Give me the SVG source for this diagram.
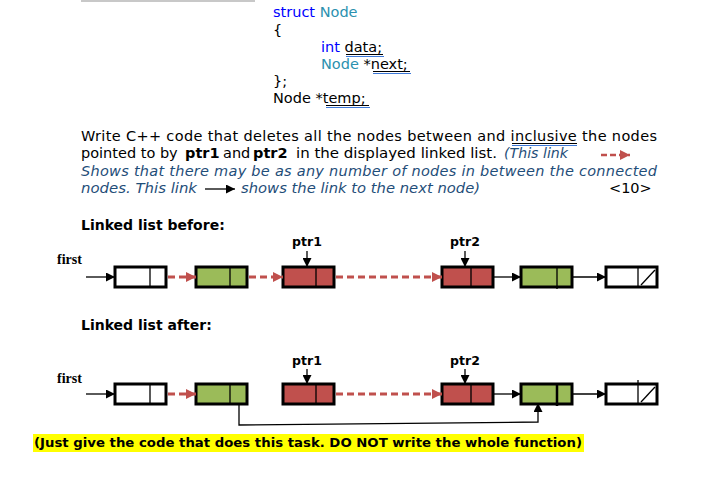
<svg xmlns="http://www.w3.org/2000/svg" width="717" height="479" viewBox="0 0 717 479">
<defs>
<style>
.t{font-family:"DejaVu Sans","Liberation Sans",sans-serif;font-size:14.5px;fill:#000}
.kw{fill:#0000ff}
.ty{fill:#2b91af}
.it{font-style:italic;fill:#1f4e79}
.b{font-weight:bold}
.h{font-family:"DejaVu Sans","Liberation Sans",sans-serif;font-size:14px;font-weight:bold;fill:#000}
.p{font-family:"DejaVu Sans","Liberation Sans",sans-serif;font-size:12.5px;font-weight:bold;fill:#000}
.f{font-family:"Liberation Serif","Times New Roman",serif;font-size:14px;font-weight:bold;fill:#000}
.ul{stroke:#3c78d8;stroke-width:1;fill:none}
.ulk{stroke:#000;stroke-width:1;fill:none}
.node{stroke:#000;stroke-width:3}
.w{fill:#fff}.g{fill:#9bbb59}.r{fill:#c0504d}
.div{stroke:#000;stroke-width:1.3}
.blk{stroke:#000;stroke-width:1.3;fill:none;marker-end:url(#ab)}
.red{stroke:#c0504d;stroke-width:3;stroke-dasharray:7 4;fill:none;marker-end:url(#ar)}
</style>
<marker id="ab" markerUnits="userSpaceOnUse" markerWidth="9" markerHeight="9" refX="9" refY="4.5" orient="auto"><path d="M0,0 L9,4.5 L0,9 z" fill="#000"/></marker>
<marker id="ar" markerUnits="userSpaceOnUse" markerWidth="10" markerHeight="10" refX="10" refY="5" orient="auto"><path d="M0,0 L10,5 L0,10 z" fill="#c0504d"/></marker>
</defs>
<rect x="0" y="0" width="717" height="479" fill="#fff"/>
<rect x="81" y="0" width="174" height="2" fill="#c8c8c8"/>

<g id="code">
<text class="t" x="273" y="17"><tspan class="kw">struct</tspan> <tspan class="ty">Node</tspan></text>
<text class="t" x="273" y="35">{</text>
<text class="t" x="321" y="52"><tspan class="kw">int</tspan> data;</text>
<text class="t" x="321" y="69"><tspan class="ty">Node</tspan> *next;</text>
<text class="t" x="273" y="86">};</text>
<text class="t" x="273" y="103">Node *temp;</text>
<path class="ulk" d="M346,54.5 H383"/><path class="ul" d="M346,56.5 H384"/>
<path class="ulk" d="M373,71.5 H410"/><path class="ul" d="M373,73.5 H411"/>
<path class="ulk" d="M326,105.5 H369"/><path class="ul" d="M326,107.5 H370"/>
</g>

<g id="paragraph">
<text class="t" x="81" y="141" textLength="576" lengthAdjust="spacing">Write C++ code that deletes all the nodes between and inclusive the nodes</text>
<path class="ulk" d="M512,143.5 H577"/><path class="ul" d="M512,145.5 H577"/>
<text class="t" x="81" y="158">pointed to by</text>
<text class="t b" x="185" y="158">ptr1</text>
<text class="t" x="223" y="158">and</text>
<text class="t b" x="253" y="158">ptr2</text>
<text class="t" x="296" y="158" textLength="201" lengthAdjust="spacingAndGlyphs">in the displayed linked list.</text>
<text class="t it" x="504" y="158" textLength="64" lengthAdjust="spacingAndGlyphs">(This link</text>
<line class="red" x1="601" y1="155" x2="630" y2="155" style="stroke-dasharray:6 3;stroke-width:2.5"/>
<text class="t it" x="81" y="176" textLength="576" lengthAdjust="spacing">Shows that there may be as any number of nodes in between the connected</text>
<text class="t it" x="81" y="193" textLength="116" lengthAdjust="spacingAndGlyphs">nodes. This link</text>
<line class="blk" x1="205" y1="189" x2="235" y2="189"/>
<text class="t it" x="241" y="193" textLength="239" lengthAdjust="spacingAndGlyphs">shows the link to the next node)</text>
<text class="t" x="609" y="193">&lt;10&gt;</text>
</g>

<text class="h" x="81" y="230">Linked list before:</text>
<text class="h" x="81" y="330">Linked list after:</text>

<!-- before list -->
<g id="b-first"><text class="f" x="57" y="264">first</text></g>
<g id="b-n1"><rect class="node w" x="115" y="267" width="51" height="20"/><line class="div" x1="150" y1="267" x2="150" y2="287"/></g>
<g id="b-n2"><rect class="node g" x="196" y="267" width="51" height="20"/><line class="div" x1="230" y1="267" x2="230" y2="287"/></g>
<g id="b-n3"><rect class="node r" x="283" y="267" width="51" height="20"/><line class="div" x1="316" y1="267" x2="316" y2="287"/></g>
<g id="b-n4"><rect class="node r" x="442" y="267" width="51" height="20"/><line class="div" x1="471" y1="267" x2="471" y2="287"/></g>
<g id="b-n5"><rect class="node g" x="521" y="267" width="51" height="20"/><line class="div" x1="557" y1="267" x2="557" y2="289"/></g>
<g id="b-n6"><rect class="node w" x="606" y="267" width="51" height="20"/><line class="div" x1="638" y1="267" x2="638" y2="287"/><line class="div" x1="641" y1="285" x2="655" y2="270"/></g>
<g id="b-ptr1"><text class="p" x="307" y="246" text-anchor="middle">ptr1</text></g>
<g id="b-ptr2"><text class="p" x="465" y="246" text-anchor="middle">ptr2</text></g>

<!-- after list -->
<g id="a-first"><text class="f" x="57" y="383">first</text></g>
<g id="a-n1"><rect class="node w" x="115" y="384" width="51" height="20"/><line class="div" x1="150" y1="384" x2="150" y2="404"/></g>
<g id="a-n2"><rect class="node g" x="196" y="384" width="51" height="20"/><line class="div" x1="230" y1="384" x2="230" y2="404"/></g>
<g id="a-n3"><rect class="node r" x="283" y="384" width="51" height="20"/><line class="div" x1="316" y1="384" x2="316" y2="404"/></g>
<g id="a-n4"><rect class="node r" x="442" y="384" width="51" height="20"/><line class="div" x1="471" y1="384" x2="471" y2="404"/></g>
<g id="a-n5"><rect class="node g" x="521" y="384" width="51" height="20"/><line x1="557" y1="384" x2="557" y2="406" stroke="#000" stroke-width="2.5"/></g>
<g id="a-n6"><rect class="node w" x="606" y="384" width="51" height="20"/><line class="div" x1="638" y1="380" x2="638" y2="404"/><line class="div" x1="641" y1="402" x2="655" y2="387"/></g>
<g id="a-ptr1"><text class="p" x="307" y="365" text-anchor="middle">ptr1</text></g>
<g id="a-ptr2"><text class="p" x="465" y="365" text-anchor="middle">ptr2</text></g>

<g id="connectors">
<line class="blk" x1="86" y1="277" x2="115" y2="277"/>
<line class="red" x1="168" y1="277" x2="196" y2="277"/>
<line class="red" x1="249" y1="277" x2="283" y2="277"/>
<line class="red" x1="336" y1="277" x2="442" y2="277"/>
<line class="blk" x1="494" y1="277" x2="521" y2="277"/>
<line class="blk" x1="573" y1="277" x2="606" y2="277"/>
<line class="blk" x1="307" y1="251" x2="307" y2="267"/>
<line class="blk" x1="465" y1="251" x2="465" y2="267"/>

<line class="blk" x1="86" y1="394" x2="115" y2="394"/>
<line class="red" x1="168" y1="394" x2="196" y2="394"/>
<line class="red" x1="336" y1="394" x2="442" y2="394"/>
<line class="blk" x1="494" y1="394" x2="521" y2="394"/>
<line class="blk" x1="573" y1="394" x2="606" y2="394"/>
<line class="blk" x1="307" y1="369" x2="307" y2="384"/>
<line class="blk" x1="465" y1="369" x2="465" y2="384"/>
<polyline class="blk" points="239,404 239,425 538,422 538,403"/>
</g>

<g id="note">
<rect x="33" y="434" width="551" height="18" fill="#ffff00"/>
<text class="t b" x="34" y="447" style="font-size:12.5px" textLength="548" lengthAdjust="spacingAndGlyphs">(Just give the code that does this task. DO NOT write the whole function)</text>
</g>
</svg>
